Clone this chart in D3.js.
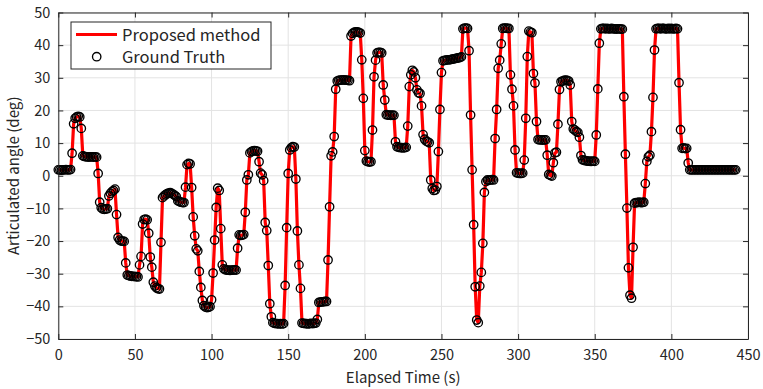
<!DOCTYPE html>
<html>
<head>
<meta charset="utf-8">
<script src="https://cdn.jsdelivr.net/npm/d3@7"></script>
<style>
 body { margin: 0; background: #fff; }
 svg text { font-family: "Noto Sans CJK JP", "Noto Sans", sans-serif; fill: #262626; }
</style>
</head>
<body>
<script>
// *** ground truth articulated angle (deg), one sample per second starting at t = 0 s
var groundTruth = [
 1.8, 1.8, 1.7, 1.8, 1.8, 1.9, 1.8, 1.8, 1.9,
 6.9, 15.9, 17.6, 18.0, 18.2, 18.0, 14.5, 6.1,
 5.9, 5.8, 5.8, 5.7, 5.8, 5.8, 5.7, 5.8, 5.7,
 0.7, -8.1,
 -9.8, -10.2, -10.3, -10.2, -10.1,
 -6.2, -5.4, -4.9, -4.5, -4.1,
 -11.9, -18.9,
 -19.7, -20.0, -20.0, -20.1,
 -26.7,
 -30.4, -30.6, -30.7, -30.8, -30.8, -30.9, -30.9, -31.0,
 -27.3, -24.7, -14.8, -13.4, -13.3, -13.5, -17.6, -24.9, -28.0, -32.6, -33.8, -34.3, -34.6, -34.7,
 -20.4, -6.7,
 -6.2, -5.8, -5.5, -5.3, -5.2, -5.4, -5.7, -6.0, -6.4,
 -7.7, -7.9, -8.1, -8.2, -8.2,
 -3.5, 3.4, 3.8, 3.6, -3.6, -12.6, -18.4, -22.4, -23.0, -29.3, -34.2, -38.2, -39.8,
 -40.2, -40.4, -40.3, -40.1,
 -38.0, -29.8, -19.7, -9.7, -3.8, -4.5, -16.2, -27.3,
 -28.5, -28.8, -28.9, -28.9, -29.0, -28.9, -28.9, -28.8, -28.9,
 -22.2, -18.1, -18.3, -18.2, -18.0, -11.2, -1.3, 0.3, 7.0,
 7.4, 7.6, 7.7, 7.6, 7.5,
 4.3, 0.8, 0.3, -1.5, -14.3, -16.8, -27.5, -39.2, -43.2,
 -45.0, -45.2, -45.3, -45.3, -45.4, -45.3, -45.4, -45.3,
 -33.6, -15.9, 0.7, 7.9, 8.6, 8.9, 8.8, -1.0, -16.9, -27.3, -34.5,
 -45.1, -45.2, -45.3, -45.3, -45.4, -45.3, -45.2, -45.3, -45.2, -45.1,
 -44.0,
 -38.8, -38.7, -38.6, -38.6, -38.5, -38.5,
 -25.8, -9.5, 6.1, 7.3, 12.0, 26.5,
 29.0, 29.2, 29.3, 29.3, 29.4, 29.3, 29.3, 29.2, 29.1,
 42.8,
 43.6, 43.9, 44.1, 44.1, 43.9, 43.7,
 35.5, 23.7, 7.7,
 4.5, 4.3, 4.2, 4.3,
 14.0, 30.3, 35.4,
 37.6, 37.8, 37.8, 37.6,
 27.8, 23.2,
 18.7, 18.6, 18.6, 18.5, 18.6, 18.5,
 10.4,
 8.9, 8.7, 8.6, 8.6, 8.5, 8.6, 8.7,
 15.2, 27.3, 30.9, 32.3, 31.8, 30.0, 26.3, 25.4, 25.2, 21.4, 12.6, 11.2, 10.6, 10.4, 10.1,
 -1.3, -3.9, -4.5, -4.4, -3.3, 7.4, 20.3, 31.6, 35.2,
 35.3, 35.4, 35.5, 35.5, 35.6, 35.7, 35.8, 35.9, 36.0, 36.1, 36.2, 36.4,
 45.0, 45.2, 45.2, 45.1,
 38.3, 18.6, 1.8, -15.0, -34.0, -44.2, -45.0, -33.8, -29.6, -20.7, -5.1, -1.8,
 -1.3, -1.4, -1.3, -1.2, -1.3,
 11.4, 20.3, 32.9, 35.4, 40.4,
 45.1, 45.2, 45.2, 45.1, 45.1,
 30.9, 26.5, 21.4, 7.9,
 0.9, 0.8, 0.7, 0.7, 0.8,
 4.8, 17.6, 36.5,
 44.3, 44.0, 43.8,
 31.3, 28.4, 16.6,
 11.1, 11.0, 11.0, 10.9, 11.0, 11.0,
 6.3, 0.4, 0.1, -0.1, 4.0, 7.0, 7.2, 15.8, 26.4,
 28.8, 29.0, 29.2, 29.3, 29.2, 29.0,
 27.8, 16.6, 14.3, 14.0, 13.5, 13.3, 11.8, 6.2,
 4.9, 4.7, 4.6, 4.5, 4.5, 4.4, 4.4, 4.5, 4.4,
 12.5, 26.6, 40.6,
 45.0, 45.1, 45.1, 45.0, 45.1, 45.0, 45.0, 45.1, 45.0, 45.0, 44.9, 45.0, 45.0, 44.9, 44.9,
 24.2, 6.6, -9.9, -28.2, -36.6, -37.5, -21.9, -8.4,
 -8.2, -8.2, -8.1, -8.2, -8.2, -8.1,
 -2.4, 4.4, 5.8, 6.3, 13.5, 24.0, 38.5,
 45.0, 45.1, 45.1, 45.0, 45.1, 45.1, 45.0, 45.0, 45.1, 45.0, 45.1, 45.0, 45.0, 45.1, 45.0,
 28.5, 14.1, 8.4, 8.5, 8.3, 8.4, 3.9,
 1.8, 1.8, 1.8, 1.8, 1.8, 1.8, 1.8, 1.8, 1.8, 1.8,
 1.8, 1.8, 1.8, 1.8, 1.8, 1.8, 1.8, 1.8, 1.8, 1.8,
 1.8, 1.8, 1.8, 1.8, 1.8, 1.8, 1.8, 1.8, 1.8, 1.8, 1.8
];

// *** proposed method estimate - sits on top of the ground truth at this scale
var proposed = groundTruth.slice();

var xTicks = [0, 50, 100, 150, 200, 250, 300, 350, 400, 450];
var yTicks = [-50, -40, -30, -20, -10, 0, 10, 20, 30, 40, 50];
var legendLabels = ["Proposed method", "Ground Truth"];

var width = 763
var height = 389
var margin = { left: 58.3, right: 15, top: 12.5, bottom: 50 }
var plotWidth = width - margin.left - margin.right
var plotHeight = height - margin.top - margin.bottom

var svg = d3.select('body')
 .append('svg')
 .attr('width', width)
 .attr('height', height);

var g = svg.append('g')
 .attr('transform', 'translate(' + margin.left + ',' + margin.top + ')');

var xScale = d3.scaleLinear().domain([0, 450]).range([0, plotWidth]);
var yScale = d3.scaleLinear().domain([-50, 50]).range([plotHeight, 0]);

// grid
g.append('g')
 .selectAll('line.vgrid')
 .data(xTicks)
 .enter()
 .append('line')
 .attr('x1', d => xScale(d)).attr('x2', d => xScale(d))
 .attr('y1', 0).attr('y2', plotHeight)
 .attr('stroke', '#e3e3e3');

g.append('g')
 .selectAll('line.hgrid')
 .data(yTicks)
 .enter()
 .append('line')
 .attr('x1', 0).attr('x2', plotWidth)
 .attr('y1', d => yScale(d)).attr('y2', d => yScale(d))
 .attr('stroke', '#e3e3e3');

// *** the data
var line = d3.line()
 .x((d, i) => xScale(i))
 .y(d => yScale(d));

g.append('path')
 .datum(proposed)
 .attr('d', line)
 .attr('fill', 'none')
 .attr('stroke', '#ff0000')
 .attr('stroke-width', 3.2)
 .attr('stroke-linejoin', 'round');

g.selectAll('circle.gt')
 .data(groundTruth)
 .enter()
 .append('circle')
 .attr('class', 'gt')
 .attr('cx', (d, i) => xScale(i))
 .attr('cy', d => yScale(d))
 .attr('r', 4.2)
 .attr('fill', 'none')
 .attr('stroke', '#000')
 .attr('stroke-width', 1.35);

// axes (ticks point inward, box on all four sides)
var xAxis = d3.axisBottom(xScale).tickValues(xTicks).tickSizeInner(-5).tickSizeOuter(0).tickPadding(11);
var yAxis = d3.axisLeft(yScale).tickValues(yTicks).tickSizeInner(-5).tickSizeOuter(0).tickPadding(8);
var xTop = d3.axisTop(xScale).tickValues(xTicks).tickSizeInner(-5).tickSizeOuter(0).tickFormat('');
var yRight = d3.axisRight(yScale).tickValues(yTicks).tickSizeInner(-5).tickSizeOuter(0).tickFormat('');

function styleAxis(sel) {
 sel.selectAll('path').attr('stroke', '#262626').attr('stroke-width', 1);
 sel.selectAll('line').attr('stroke', '#262626');
 sel.selectAll('text').style('font-size', '14.5px').attr('fill', '#262626');
}

g.append('g').attr('transform', 'translate(0,' + plotHeight + ')').call(xAxis).call(styleAxis);
g.append('g').call(yAxis).call(styleAxis);
g.append('g').call(xTop).call(styleAxis);
g.append('g').attr('transform', 'translate(' + plotWidth + ',0)').call(yRight).call(styleAxis);

// x axis label
svg.append('text')
 .attr('x', margin.left + plotWidth / 2)
 .attr('y', 383)
 .style('text-anchor', 'middle')
 .style('font-size', '15px')
 .text('Elapsed Time (s)');

// y axis label
svg.append('text')
 .style('text-anchor', 'middle')
 .style('font-size', '15px')
 .attr('transform', 'translate(19,' + (margin.top + plotHeight / 2) + ') rotate(-90)')
 .text('Articulated angle (deg)');

// legend
var legend = svg.append('g').attr('transform', 'translate(71,22)');
legend.append('rect')
 .attr('width', 200).attr('height', 47)
 .attr('fill', '#fff')
 .attr('stroke', '#262626')
 .attr('stroke-width', 1);
legend.append('line')
 .attr('x1', 5).attr('x2', 46)
 .attr('y1', 12.5).attr('y2', 12.5)
 .attr('stroke', '#ff0000').attr('stroke-width', 3.2);
legend.append('circle')
 .attr('cx', 25.7).attr('cy', 34.7).attr('r', 4.2)
 .attr('fill', 'none').attr('stroke', '#000').attr('stroke-width', 1.35);
legend.selectAll('text')
 .data(legendLabels)
 .enter()
 .append('text')
 .attr('x', 51)
 .attr('y', (d, i) => 18.5 + i * 22)
 .style('font-size', '16.5px')
 .text(d => d);
</script>
</body>
</html>
